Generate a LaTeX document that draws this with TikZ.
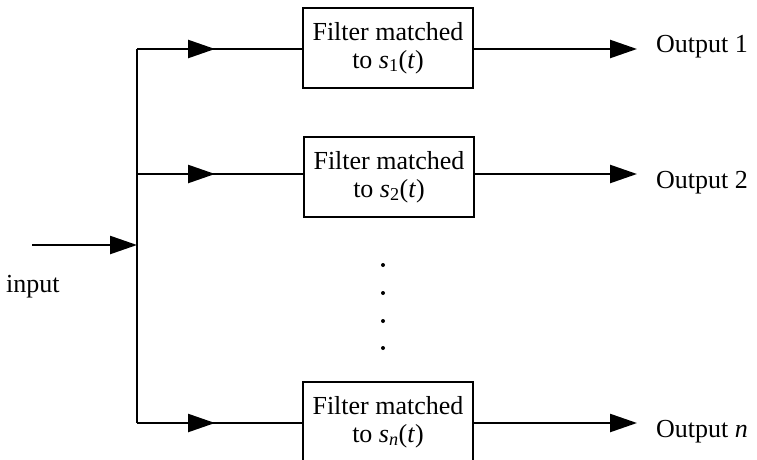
\documentclass[tikz,border=0pt]{standalone}
\usepackage{fontspec}
\setmainfont{Liberation Serif}
\usetikzlibrary{arrows.meta}
\begin{document}
\begin{tikzpicture}[x=1pt,y=-1pt,
  wire/.style={line width=2.4pt},
  arr/.style={wire,-{Triangle[length=27pt,width=18pt]}},
  filt/.style={draw,line width=2.4pt,minimum width=170pt,minimum height=80pt,
    align=center,inner sep=0pt,font=\fontsize{26}{28}\selectfont},
  lbl/.style={font=\fontsize{26}{28}\selectfont,anchor=west,inner sep=0pt},
  dotm/.style={fill,circle,inner sep=0pt,minimum size=4pt}]
\useasboundingbox (0,0) rectangle (757,460);
% filters
\node[filt] (f1) at (388,48) {Filter matched\\to \textit{s}\textsubscript{1}(\textit{t})};
\node[filt] (f2) at (389,177) {Filter matched\\to \textit{s}\textsubscript{2}(\textit{t})};
\node[filt] (fn) at (388,422) {Filter matched\\to \textit{s}\textsubscript{\textit{n}}(\textit{t})};
% bus
\coordinate (b1) at (137,49);
\coordinate (b2) at (137,174);
\coordinate (bi) at (137,245);
\coordinate (bn) at (137,423);
\coordinate (in) at (32,245);
\draw[wire] (b1) -- (bn);
\draw[arr] (in) -- (bi);
\node[font=\fontsize{26}{28}\selectfont,anchor=west,inner sep=0pt] (inl) at (6,287) {input};
% branches
\coordinate (m1) at (215,49);
\coordinate (m2) at (215,174);
\coordinate (mn) at (215,423);
\draw[wire] (b1) -- (f1.west |- b1);
\draw[arr] (b1) -- (m1);
\draw[wire] (b2) -- (f2.west |- b2);
\draw[arr] (b2) -- (m2);
\draw[wire] (bn) -- (fn.west |- bn);
\draw[arr] (bn) -- (mn);
% outputs
\coordinate (o1) at (637,49);
\coordinate (o2) at (637,174);
\coordinate (on) at (637,423);
\draw[arr] (f1.east |- o1) -- (o1);
\draw[arr] (f2.east |- o2) -- (o2);
\draw[arr] (fn.east |- on) -- (on);
\node[lbl] (l1) at (656,47) {Output 1};
\node[lbl] (l2) at (656,183) {Output 2};
\node[lbl] (ln) at (656,432) {Output \textit{n}};
% dots
\node[dotm] (d1) at (383,265) {};
\node[dotm] (d2) at (383,293) {};
\node[dotm] (d3) at (383,321) {};
\node[dotm] (d4) at (383,348) {};
\end{tikzpicture}
\end{document}
